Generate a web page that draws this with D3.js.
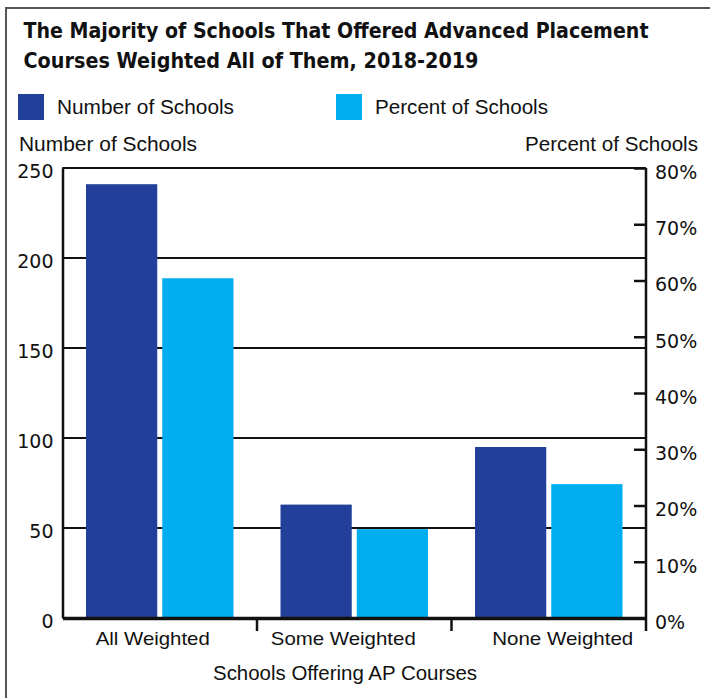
<!DOCTYPE html>
<html>
<head>
<meta charset="utf-8">
<script src="https://cdn.jsdelivr.net/npm/d3@7/dist/d3.min.js"></script>
<style>
  body { margin: 0; background: #fff; }
  svg { display: block; }
  text { fill: #111; }
</style>
</head>
<body>
<div id="chart"></div>
<script>
// Chart data
const categories = ["All Weighted", "Some Weighted", "None Weighted"];
const seriesNames = ["Number of Schools", "Percent of Schools"];
const numberOfSchools = [241, 63, 95];
const percentOfSchools = [60.4, 15.8, 23.8];
const leftTicks = [0, 50, 100, 150, 200, 250];
const rightTicks = [0, 10, 20, 30, 40, 50, 60, 70, 80];
const colors = ["#22409a", "#00aeef"];

const W = 710, H = 698;
const plot = { left: 62.5, right: 646, top: 168, bottom: 618 };

const svg = d3.select("#chart").append("svg")
  .attr("width", W)
  .attr("height", H);

// outer frame (only top and left edges show)
svg.append("rect")
  .attr("x", 6).attr("y", 8)
  .attr("width", 800).attr("height", 800)
  .attr("fill", "none")
  .attr("stroke", "#555")
  .attr("stroke-width", 2);

// Title
const title = svg.append("g")
  .style("font-family", "'Liberation Sans Narrow', 'DejaVu Sans Condensed', sans-serif")
  .style("font-weight", "bold")
  .style("font-size", "22px");
title.append("text").attr("x", 23.5).attr("y", 38)
  .attr("textLength", 625).attr("lengthAdjust", "spacingAndGlyphs")
  .text("The Majority of Schools That Offered Advanced Placement");
title.append("text").attr("x", 23.5).attr("y", 67.5)
  .attr("textLength", 455).attr("lengthAdjust", "spacingAndGlyphs")
  .text("Courses Weighted All of Them, 2018-2019");

const labelFont = "'Liberation Sans', Arial, sans-serif";

// Legend
const legendX = [18, 336];
const legendW = [177, 173];
seriesNames.forEach((s, i) => {
  svg.append("rect")
    .attr("x", legendX[i]).attr("y", 94)
    .attr("width", 26).attr("height", 26)
    .attr("fill", colors[i]);
  svg.append("text")
    .attr("x", legendX[i] + 39).attr("y", 114)
    .style("font-family", labelFont).style("font-size", "20px")
    .attr("textLength", legendW[i]).attr("lengthAdjust", "spacingAndGlyphs")
    .text(s);
});

// Axis titles
svg.append("text").attr("x", 19).attr("y", 151)
  .style("font-family", labelFont).style("font-size", "20px")
  .attr("textLength", 178).attr("lengthAdjust", "spacingAndGlyphs")
  .text("Number of Schools");
svg.append("text").attr("x", 698).attr("y", 151)
  .attr("text-anchor", "end")
  .style("font-family", labelFont).style("font-size", "20px")
  .attr("textLength", 173).attr("lengthAdjust", "spacingAndGlyphs")
  .text("Percent of Schools");

// Scales
const x0 = d3.scaleBand()
  .domain(categories)
  .range([plot.left, plot.right]);
const x1 = d3.scaleBand()
  .domain(seriesNames)
  .range([23.5, 171])
  .paddingInner(0.0656);
const yLeft = d3.scaleLinear().domain([0, 250]).range([plot.bottom, plot.top]);
const yRight = d3.scaleLinear().domain([0, 80]).range([plot.bottom, plot.top]);

// Gridlines
svg.append("g")
  .selectAll("line")
  .data(leftTicks.filter(d => d > 0))
  .join("line")
  .attr("x1", plot.left).attr("x2", plot.right)
  .attr("y1", d => yLeft(d)).attr("y2", d => yLeft(d))
  .attr("stroke", "#111")
  .attr("stroke-width", 2);

// Bars
const groups = svg.append("g")
  .selectAll("g")
  .data(categories)
  .join("g")
  .attr("transform", d => `translate(${x0(d)},0)`);

groups.selectAll("rect")
  .data((d, i) => [
    { series: seriesNames[0], y: yLeft(numberOfSchools[i]) },
    { series: seriesNames[1], y: yRight(percentOfSchools[i]) }
  ])
  .join("rect")
  .attr("x", d => x1(d.series))
  .attr("width", x1.bandwidth())
  .attr("y", d => d.y)
  .attr("height", d => plot.bottom - d.y)
  .attr("fill", (d, i) => colors[i]);

// Left axis
const leftAxis = svg.append("g")
  .attr("transform", `translate(${plot.left},0)`)
  .call(d3.axisLeft(yLeft).tickValues(leftTicks).tickSize(0).tickPadding(9));
leftAxis.select(".domain").attr("stroke", "#111").attr("stroke-width", 2.5);
leftAxis.selectAll("text")
  .style("font-family", "'DejaVu Sans', sans-serif")
  .style("font-size", "19px")
  .attr("dy", "0.5em")
  .style("fill", "#111");

// Right axis
const rightAxis = svg.append("g")
  .attr("transform", `translate(${plot.right},0)`)
  .call(d3.axisRight(yRight).tickValues(rightTicks)
    .tickSizeInner(-12).tickSizeOuter(0).tickPadding(9)
    .tickFormat(d => d + "%"));
rightAxis.select(".domain").attr("stroke", "#111").attr("stroke-width", 2.5)
  .attr("d", `M0,${plot.top}V${plot.bottom + 13}`);
rightAxis.selectAll(".tick line").attr("stroke", "#111").attr("stroke-width", 2.5);
rightAxis.selectAll("text")
  .style("font-family", "'DejaVu Sans', sans-serif")
  .style("font-size", "19px")
  .attr("dy", "0.55em")
  .style("fill", "#111");

// Top border of plot
svg.append("line")
  .attr("x1", plot.left).attr("x2", plot.right)
  .attr("y1", yLeft(250)).attr("y2", yLeft(250))
  .attr("stroke", "#111").attr("stroke-width", 2);

// Bottom axis
const labelNudge = [-7, -11, 14];
const labelW = [114, 145, 141];
const bottomAxis = svg.append("g")
  .attr("transform", `translate(0,${plot.bottom})`)
  .call(d3.axisBottom(x0).tickSize(0).tickPadding(0));
bottomAxis.select(".domain").attr("stroke", "#111").attr("stroke-width", 3.5);
bottomAxis.selectAll("text")
  .attr("y", 27).attr("dy", 0)
  .attr("dx", (d, i) => labelNudge[i])
  .attr("textLength", (d, i) => labelW[i]).attr("lengthAdjust", "spacingAndGlyphs")
  .style("font-family", labelFont)
  .style("font-size", "19px")
  .style("fill", "#111");

// separators between categories
svg.append("g")
  .selectAll("line")
  .data(categories.slice(1))
  .join("line")
  .attr("x1", d => x0(d)).attr("x2", d => x0(d))
  .attr("y1", plot.bottom).attr("y2", plot.bottom + 13)
  .attr("stroke", "#111").attr("stroke-width", 2.5);

// x axis title
svg.append("text")
  .attr("x", 345).attr("y", 680)
  .attr("text-anchor", "middle")
  .style("font-family", labelFont).style("font-size", "20px")
  .attr("textLength", 264).attr("lengthAdjust", "spacingAndGlyphs")
  .text("Schools Offering AP Courses");
</script>
</body>
</html>
